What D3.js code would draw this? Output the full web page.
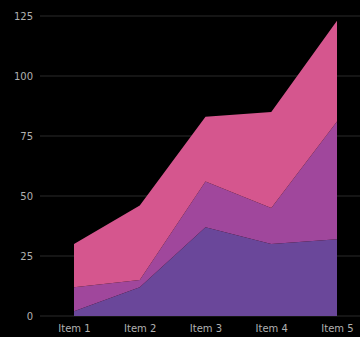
<!DOCTYPE html>
<html>
<head>
<meta charset="utf-8">
<script src="https://cdn.jsdelivr.net/npm/d3@7"></script>
<style>
  html, body { margin: 0; padding: 0; background: #000; }
  svg { display: block; }
</style>
</head>
<body>
<svg id="chart" width="360" height="337"></svg>
<script>
var categories = ["Item 1", "Item 2", "Item 3", "Item 4", "Item 5"];
var seriesNames = ["a", "b", "c"];
var seriesA = [2, 12, 37, 30, 32];
var seriesB = [10, 3, 19, 15, 49];
var seriesC = [18, 31, 27, 40, 42];
var yTicks = [0, 25, 50, 75, 100, 125];
var colors = ["#6a479a", "#a0479c", "#d5568e"];

var svg = d3.select("#chart"),
    width = +svg.attr("width"),
    height = +svg.attr("height"),
    margin = {top: 16, right: 23, bottom: 21, left: 40};

var rows = categories.map(function(c, i) {
  return {cat: c, a: seriesA[i], b: seriesB[i], c: seriesC[i]};
});

var stacked = d3.stack().keys(seriesNames)(rows);

var x = d3.scalePoint()
    .domain(categories)
    .range([margin.left + 34, width - margin.right]);

var y = d3.scaleLinear()
    .domain([0, 125])
    .range([height - margin.bottom, margin.top]);

// grid
svg.append("g")
  .selectAll("line")
  .data(yTicks)
  .enter().append("line")
    .attr("x1", margin.left)
    .attr("x2", width)
    .attr("y1", d => y(d))
    .attr("y2", d => y(d))
    .attr("stroke", "#2b2b2b")
    .attr("stroke-width", 1);

var area = d3.area()
    .x(d => x(d.data.cat))
    .y0(d => y(d[0]))
    .y1(d => y(d[1]));

svg.append("g")
  .selectAll("path")
  .data(stacked)
  .enter().append("path")
    .attr("d", area)
    .attr("fill", (d, i) => colors[i]);

// y labels
svg.append("g")
  .selectAll("text")
  .data(yTicks)
  .enter().append("text")
    .attr("x", 33)
    .attr("y", d => y(d))
    .attr("dy", "0.35em")
    .attr("text-anchor", "end")
    .attr("fill", "#b0b0b0")
    .style("font", "10px 'DejaVu Sans', sans-serif")
    .text(d => d);

// x labels
var xAxis = svg.append("g")
    .attr("transform", "translate(0," + (height - margin.bottom) + ")")
    .call(d3.axisBottom(x).tickSize(0).tickPadding(9));

xAxis.select(".domain").remove();
xAxis.selectAll("text")
    .attr("fill", "#b0b0b0")
    .style("font", "10px 'DejaVu Sans', sans-serif");
</script>
</body>
</html>
